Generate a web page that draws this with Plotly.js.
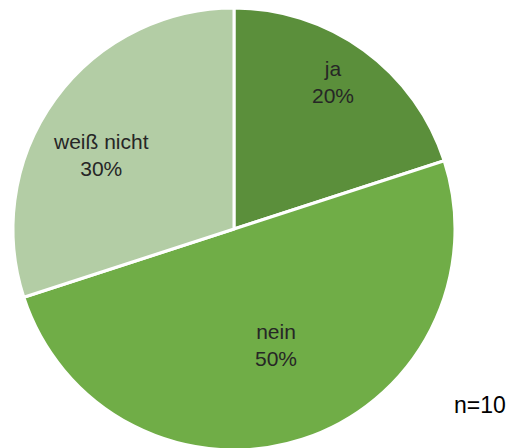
<!DOCTYPE html>
<html><head><meta charset="utf-8">
<script src="https://cdn.plot.ly/plotly-3.0.1.min.js"></script>
<style>html,body{margin:0;padding:0;overflow:hidden;background:#fff}</style>
</head><body><div id="chart" style="width:510px;height:452px"></div>
<script>
const labels = ["ja", "nein", "weiß nicht"];
const values = [20, 50, 30];
const colors = ["#5b8f3b", "#70ad47", "#b3cda5"];
const note = "n=10";

// label placement style (fraction of radius, angular nudge in degrees)
const labelRadius = [0.80, 0.56, 0.69];
const labelNudge = [-2, -2, -7];

const W = 510, H = 452;
const dom = {x: [13/W, 455/W], y: [2/H, 444/H]};
const cx = (dom.x[0] + dom.x[1]) / 2, cy = (dom.y[0] + dom.y[1]) / 2;
const rpx = Math.min((dom.x[1]-dom.x[0])*W, (dom.y[1]-dom.y[0])*H) / 2;

const total = values.reduce((a, b) => a + b, 0);
let cum = 0;
const annotations = values.map((v, i) => {
  const mid = (cum + v / 2) / total * 360 + labelNudge[i];
  cum += v;
  const a = mid * Math.PI / 180;
  const d = labelRadius[i] * rpx;
  return {
    text: labels[i] + "<br>" + Math.round(v / total * 100) + "%",
    xref: "paper", yref: "paper",
    x: cx + d * Math.sin(a) / W, y: cy + d * Math.cos(a) / H,
    xanchor: "center", yanchor: "middle", showarrow: false,
    font: {family: "Liberation Sans, Arial, sans-serif", size: 21, color: "#262626"}
  };
});
annotations.push({
  text: note, xref: "paper", yref: "paper",
  x: 508/W, y: (H-405)/H, xanchor: "right", yanchor: "middle",
  showarrow: false,
  font: {family: "Liberation Sans, Arial, sans-serif", size: 23, color: "#000000"}
});

Plotly.newPlot("chart", [{
  type: "pie",
  labels: labels,
  values: values,
  sort: false,
  direction: "clockwise",
  rotation: 0,
  marker: {colors: colors, line: {color: "#ffffff", width: 3}},
  textinfo: "none",
  hoverinfo: "none",
  domain: dom
}], {
  width: W, height: H,
  margin: {l: 0, r: 0, t: 0, b: 0},
  showlegend: false,
  paper_bgcolor: "#ffffff",
  annotations: annotations
}, {displayModeBar: false, staticPlot: true});
</script></body></html>
